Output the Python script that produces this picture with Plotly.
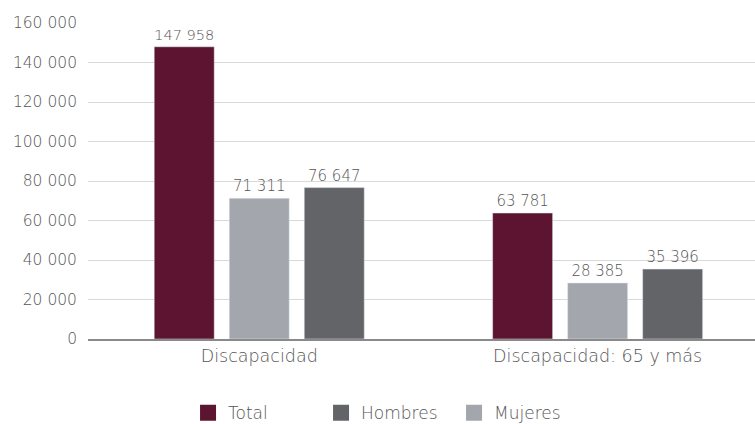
import plotly.graph_objects as go

categories = ["Discapacidad", "Discapacidad: 65 y más"]
total = [147958, 63781]
mujeres = [71311, 28385]
hombres = [76647, 35396]
y_ticks = [0, 20000, 40000, 60000, 80000, 100000, 120000, 140000, 160000]

C_TOTAL = "#5C1430"
C_MUJ = "#A3A6AD"
C_HOM = "#636468"
FONT = "DejaVu Sans"
W = 200
TXT = "#555555"

fig = go.Figure()
for name, vals, col in [("Total", total, C_TOTAL), ("Mujeres", mujeres, C_MUJ), ("Hombres", hombres, C_HOM)]:
    fig.add_trace(go.Bar(
        x=categories, y=vals, name=name, marker_color=col, showlegend=False,
        texttemplate="%{y:,}", textposition="outside", cliponaxis=False,
        textfont=dict(family=FONT, size=15, color=TXT, weight=W),
    ))

# legend entries (order Total, Hombres, Mujeres)
for i, (name, col) in enumerate([("Total", C_TOTAL), ("Hombres", C_HOM), ("Mujeres", C_MUJ)]):
    fig.add_trace(go.Scatter(
        x=[None], y=[None], mode="markers", name=name,
        marker=dict(symbol="square", size=22, color=col), legendrank=i + 1,
    ))

fig.update_layout(
    width=755, height=424,
    margin=dict(l=88, r=0, t=23, b=85, autoexpand=False),
    paper_bgcolor="white", plot_bgcolor="white",
    barmode="group", bargap=0.335, bargroupgap=0.2,
    separators=". ",
    font=dict(family=FONT, color=TXT, weight=W),
    legend=dict(orientation="h", x=0.15, xanchor="left", y=-0.235, yanchor="middle",
                font=dict(family=FONT, size=17, color=TXT, weight=W),
                entrywidth=88, entrywidthmode="pixels",
                traceorder="normal"),
)
fig.update_xaxes(
    type="category", range=[-0.506, 1.465], showgrid=False,
    showline=True, linecolor="#8a8a8a", linewidth=2, ticks="",
    tickfont=dict(family=FONT, size=17.5, color=TXT, weight=W),
)
fig.update_yaxes(
    range=[0, 160000], tickvals=y_ticks, tickformat=",d",
    showgrid=True, gridcolor="#d9d9d9", gridwidth=1, zeroline=False,
    tickfont=dict(family=FONT, size=15.5, color=TXT, weight=W), ticks="", ticklabelstandoff=10,
)

fig.write_html("out.html")
